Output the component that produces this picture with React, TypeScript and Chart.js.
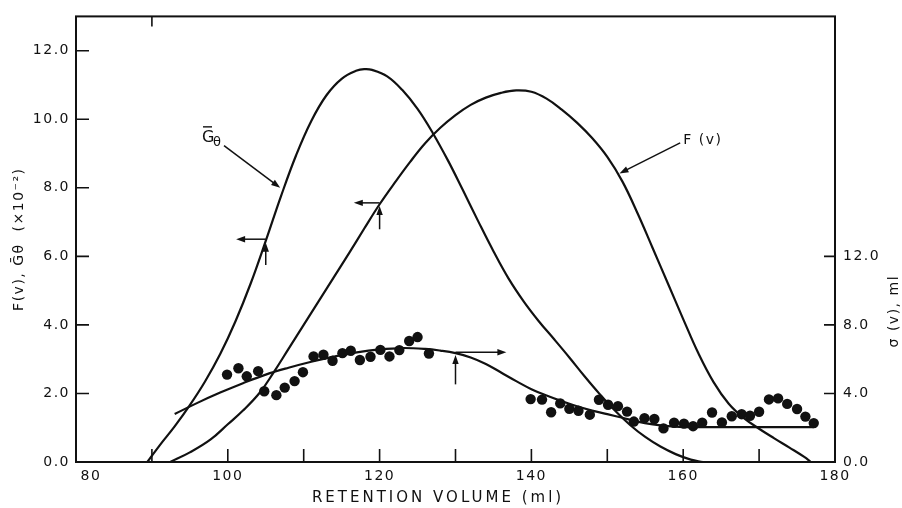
import React, { useEffect, useRef } from "react";
import { Chart, registerables } from "chart.js";

Chart.register(...registerables);

// ---- axis ticks ----
const xTickValues = [80, 100, 120, 140, 160, 180];
const xMinorTicks = [90, 100, 110, 120, 130, 140, 150, 160, 170];
const leftTickValues = [0, 2, 4, 6, 8, 10, 12];
const rightTickValues = [0, 4, 8, 12];

// ---- G-theta curve (left axis, x10^-2) ----
const gVolume = [89.4, 91, 93, 95, 97, 99, 101, 103, 105, 107, 109, 111, 113, 115, 117, 118, 119, 121, 123, 125, 127, 129, 131, 133, 135, 137, 139, 141, 143, 145, 147, 149, 151, 153, 155, 157, 159, 161, 162.6];
const gValue = [0, 0.48, 1.04, 1.66, 2.35, 3.15, 4.1, 5.2, 6.45, 7.75, 8.95, 9.95, 10.7, 11.18, 11.42, 11.46, 11.44, 11.25, 10.85, 10.3, 9.6, 8.8, 7.92, 7.02, 6.15, 5.35, 4.68, 4.1, 3.58, 3.05, 2.5, 1.98, 1.5, 1.08, 0.73, 0.45, 0.23, 0.07, 0];

// ---- F(v) curve (left axis, x10^-2) ----
const fVolume = [92.4, 95, 97.7, 100, 102, 104.2, 106, 108, 110, 112, 114, 116, 118, 120, 122, 124, 126, 128, 130, 132, 134, 136, 138, 140, 142, 144, 146, 148, 150, 152, 154, 156, 158, 160, 162, 164, 166, 168, 170, 172, 174, 176, 176.8];
const fValue = [0, 0.28, 0.65, 1.1, 1.5, 2.02, 2.6, 3.3, 4.0, 4.7, 5.4, 6.1, 6.82, 7.52, 8.15, 8.75, 9.3, 9.75, 10.12, 10.42, 10.63, 10.77, 10.84, 10.8, 10.6, 10.28, 9.9, 9.45, 8.9, 8.18, 7.25, 6.23, 5.2, 4.17, 3.17, 2.33, 1.7, 1.28, 0.97, 0.69, 0.42, 0.14, 0];

// ---- sigma(v) fitted curve (right axis, ml) ----
const sigmaFitVolume = [93, 96, 99, 102, 105, 108, 111, 114, 117, 120, 123, 126, 128, 130, 132, 134, 136, 138, 140, 142, 144, 146, 148, 150, 152, 154, 156, 158, 160, 163, 168, 173, 177.2];
const sigmaFitValue = [2.8, 3.45, 4.05, 4.6, 5.1, 5.5, 5.85, 6.15, 6.4, 6.57, 6.65, 6.6, 6.5, 6.35, 6.1, 5.72, 5.22, 4.72, 4.25, 3.88, 3.55, 3.25, 3.0, 2.79, 2.58, 2.36, 2.2, 2.09, 2.04, 2.04, 2.04, 2.04, 2.04];

// ---- sigma(v) measured points (right axis, ml) ----
const sigmaPointVolume = [99.9, 101.4, 102.5, 104.0, 104.8, 106.4, 107.5, 108.8, 109.9, 111.3, 112.6, 113.8, 115.1, 116.2, 117.4, 118.8, 120.1, 121.3, 122.6, 123.9, 125.0, 126.5, 139.9, 141.4, 142.6, 143.8, 145.0, 146.2, 147.7, 148.9, 150.1, 151.4, 152.6, 153.5, 154.9, 156.2, 157.4, 158.8, 160.1, 161.3, 162.5, 163.8, 165.1, 166.4, 167.7, 168.8, 170.0, 171.3, 172.5, 173.7, 175.0, 176.1, 177.2];
const sigmaPointValue = [5.1, 5.47, 5.0, 5.3, 4.13, 3.9, 4.34, 4.72, 5.24, 6.16, 6.26, 5.91, 6.35, 6.49, 5.95, 6.14, 6.54, 6.16, 6.53, 7.06, 7.29, 6.33, 3.67, 3.64, 2.9, 3.42, 3.11, 2.99, 2.76, 3.63, 3.34, 3.26, 2.94, 2.36, 2.56, 2.51, 1.96, 2.29, 2.24, 2.09, 2.29, 2.89, 2.31, 2.67, 2.79, 2.7, 2.93, 3.65, 3.71, 3.39, 3.09, 2.65, 2.27];

const FONT = "'DejaVu Sans', sans-serif";
const INK = "#111111";

const toXY = (xs: number[], ys: number[]) => xs.map((x, i) => ({ x, y: ys[i] }));

function drawArrow(ctx: CanvasRenderingContext2D, x1: number, y1: number, x2: number, y2: number) {
  const head = 9;
  const hw = 3.2;
  const a = Math.atan2(y2 - y1, x2 - x1);
  ctx.beginPath();
  ctx.moveTo(x1, y1);
  ctx.lineTo(x2 - Math.cos(a) * 4, y2 - Math.sin(a) * 4);
  ctx.stroke();
  ctx.beginPath();
  ctx.moveTo(x2, y2);
  ctx.lineTo(x2 - head * Math.cos(a) + hw * Math.sin(a), y2 - head * Math.sin(a) - hw * Math.cos(a));
  ctx.lineTo(x2 - head * Math.cos(a) - hw * Math.sin(a), y2 - head * Math.sin(a) + hw * Math.cos(a));
  ctx.closePath();
  ctx.fill();
}

const decorPlugin = {
  id: "decor",
  beforeLayout(chart: any) {
    chart.ctx.letterSpacing = "1.5px";
  },
  beforeDraw(chart: any) {
    chart.ctx.letterSpacing = "1.5px";
  },
  afterDraw(chart: any) {
    const ctx: CanvasRenderingContext2D = chart.ctx;
    const { left, right, top, bottom } = chart.chartArea;
    const sx = chart.scales.x;
    const sy = chart.scales.y;
    const sy2 = chart.scales.y2;
    const px = (v: number) => sx.getPixelForValue(v);
    const py = (v: number) => sy.getPixelForValue(v);
    const py2 = (v: number) => sy2.getPixelForValue(v);

    ctx.save();
    ctx.strokeStyle = INK;
    ctx.fillStyle = INK;
    ctx.lineCap = "butt";

    // frame
    ctx.lineWidth = 2;
    ctx.strokeRect(left, top, right - left, bottom - top);

    // inward tick marks
    ctx.lineWidth = 1.6;
    ctx.beginPath();
    leftTickValues.forEach((v) => {
      if (v === 0) return;
      ctx.moveTo(left, py(v));
      ctx.lineTo(left + 13, py(v));
    });
    rightTickValues.forEach((v) => {
      if (v === 0) return;
      ctx.moveTo(right, py2(v));
      ctx.lineTo(right - 11, py2(v));
    });
    xMinorTicks.forEach((v) => {
      ctx.moveTo(px(v), bottom);
      ctx.lineTo(px(v), bottom - 13);
    });
    ctx.moveTo(px(90), top);
    ctx.lineTo(px(90), top + 10);
    ctx.stroke();

    // reading arrows
    ctx.lineWidth = 1.5;
    drawArrow(ctx, px(105), py(5.75), px(105), py(6.4));
    drawArrow(ctx, px(105), py(6.5), px(101.1), py(6.5));
    drawArrow(ctx, px(120), py(6.79), px(120), py(7.47));
    drawArrow(ctx, px(120), py(7.56), px(116.6), py(7.56));
    drawArrow(ctx, px(130), py2(4.53), px(130), py2(6.25));
    drawArrow(ctx, px(130), py2(6.4), px(136.7), py2(6.4));

    // curve labels with pointers
    drawArrow(ctx, px(99.5), py(9.23), px(106.9), py(8.0));
    drawArrow(ctx, px(159.6), py(9.31), px(151.6), py(8.42));

    ctx.letterSpacing = "0px";
    ctx.textBaseline = "alphabetic";
    ctx.textAlign = "left";
    ctx.font = `16px ${FONT}`;
    const gx = px(96.6);
    const gy = py(9.34);
    ctx.fillText("G", gx, gy);
    ctx.lineWidth = 1.4;
    ctx.beginPath();
    ctx.moveTo(gx + 1, gy - 15);
    ctx.lineTo(gx + 10, gy - 15);
    ctx.stroke();
    ctx.font = `13px ${FONT}`;
    ctx.fillText("\u03B8", gx + 11, gy + 4);

    ctx.letterSpacing = "1.5px";
    ctx.font = `14px ${FONT}`;
    ctx.fillText("F (v)", px(160.0), py(9.28));

    // x axis title
    ctx.letterSpacing = "3px";
    ctx.font = `15px ${FONT}`;
    ctx.textAlign = "center";
    ctx.textBaseline = "middle";
    ctx.fillText("RETENTION VOLUME (ml)", px(127.7), 498);

    // right axis title (reads bottom to top)
    ctx.letterSpacing = "1.5px";
    ctx.font = `14px ${FONT}`;
    ctx.translate(894, py2(8.8));
    ctx.rotate(-Math.PI / 2);
    ctx.fillText("\u03C3 (v), ml", 0, 0);
    ctx.restore();
  },
};

export default function App() {
  const canvasRef = useRef<HTMLCanvasElement | null>(null);

  useEffect(() => {
    if (!canvasRef.current) return;
    const tickFont = { family: FONT, size: 14 };
    const lineStyle = {
      showLine: true,
      borderColor: INK,
      borderWidth: 2.2,
      pointRadius: 0,
      tension: 0.4,
    };
    const chart = new Chart(canvasRef.current, {
      type: "scatter",
      data: {
        datasets: [
          { label: "G theta", data: toXY(gVolume, gValue), ...lineStyle, yAxisID: "y" },
          { label: "F(v)", data: toXY(fVolume, fValue), ...lineStyle, yAxisID: "y" },
          { label: "sigma fit", data: toXY(sigmaFitVolume, sigmaFitValue), ...lineStyle, yAxisID: "y2" },
          {
            label: "sigma data",
            data: toXY(sigmaPointVolume, sigmaPointValue),
            showLine: false,
            backgroundColor: INK,
            borderColor: INK,
            borderWidth: 0,
            pointRadius: 5.2,
            yAxisID: "y2",
          },
        ],
      },
      options: {
        responsive: false,
        animation: false,
        events: [],
        layout: { padding: { top: 12, left: 0, right: 0, bottom: 0 } },
        plugins: { legend: { display: false }, tooltip: { enabled: false } },
        scales: {
          x: {
            type: "linear",
            position: "bottom",
            min: 80,
            max: 180,
            grid: { display: false, drawTicks: false },
            border: { display: false },
            afterBuildTicks: (s: any) => {
              s.ticks = xTickValues.map((value) => ({ value }));
            },
            afterFit: (s: any) => {
              s.height = 46;
            },
            ticks: {
              padding: 6,
              color: INK,
              font: tickFont,
              maxRotation: 0,
              autoSkip: false,
              callback: (v: any) => (Number(v) === 80 ? "     80" : String(v)),
            },
          },
          y: {
            type: "linear",
            position: "left",
            min: 0,
            max: 13,
            grid: { display: false, drawTicks: false },
            border: { display: false },
            afterBuildTicks: (s: any) => {
              s.ticks = leftTickValues.map((value) => ({ value }));
            },
            afterFit: (s: any) => {
              s.width = 76;
            },
            title: {
              display: true,
              text: "F(v), \u1E20\u03B8  (\u00D710\u207B\u00B2)",
              color: INK,
              font: { family: FONT, size: 14 },
              padding: { top: 11, bottom: 0 },
            },
            ticks: {
              padding: 6,
              color: INK,
              font: tickFont,
              callback: (v: any) => Number(v).toFixed(1),
            },
          },
          y2: {
            type: "linear",
            position: "right",
            min: 0,
            max: 26,
            grid: { display: false, drawTicks: false },
            border: { display: false },
            afterBuildTicks: (s: any) => {
              s.ticks = rightTickValues.map((value) => ({ value }));
            },
            afterFit: (s: any) => {
              s.width = 67;
            },
            ticks: {
              padding: 8,
              color: INK,
              font: tickFont,
              callback: (v: any) => Number(v).toFixed(1),
            },
          },
        },
      },
      plugins: [decorPlugin],
    } as any);
    return () => chart.destroy();
  }, []);

  return (
    <div style={{ position: "fixed", left: 0, top: 0, width: 902, height: 508, background: "#ffffff" }}>
      <canvas ref={canvasRef} width={902} height={508} style={{ display: "block" }} />
    </div>
  );
}
